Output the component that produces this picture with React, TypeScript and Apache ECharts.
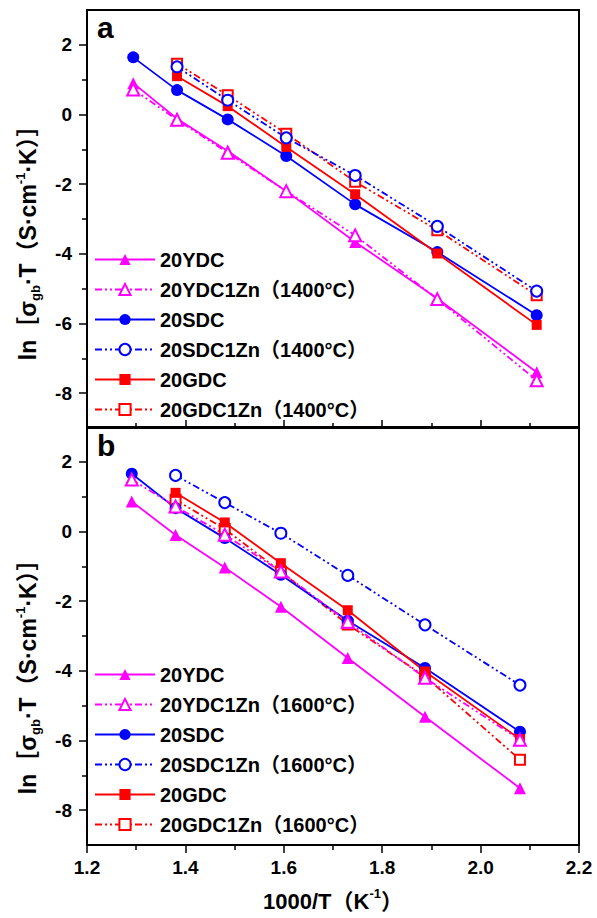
import React, { useEffect, useRef } from "react";
import * as echarts from "echarts";

// ---- data ----
const xTickValues = [1.2, 1.4, 1.6, 1.8, 2.0, 2.2];
const yLabelValues = [-8, -6, -4, -2, 0, 2];
const yMinorValues = [-7, -5, -3, -1, 1];

// 1000/T positions of the measured points
const xPanelA = [1.294, 1.383, 1.486, 1.605, 1.745, 1.912, 2.114];
const xPanelB = [1.291, 1.380, 1.480, 1.594, 1.730, 1.887, 2.080];

// panel a
const aYDC = [0.9, -0.12, -1.05, -2.2, -3.66, -5.28, -7.4];
const aYDC1Zn = [0.72, -0.15, -1.1, -2.2, -3.47, -5.3, -7.63];
const aSDC = [1.64, 0.7, -0.14, -1.19, -2.58, -3.95, -5.76];
const aSDC1Zn = [null, 1.37, 0.41, -0.67, -1.75, -3.21, -5.07];
const aGDC = [null, 1.1, 0.24, -0.93, -2.29, -3.99, -6.04];
const aGDC1Zn = [null, 1.46, 0.55, -0.55, -1.93, -3.32, -5.19];

// panel b
const bYDC = [0.86, -0.1, -1.03, -2.16, -3.63, -5.32, -7.37];
const bYDC1Zn = [1.49, 0.72, -0.09, -1.15, -2.59, -4.2, -5.98];
const bSDC = [1.66, 0.67, -0.19, -1.24, -2.56, -3.92, -5.75];
const bSDC1Zn = [null, 1.61, 0.83, -0.05, -1.26, -2.68, -4.41];
const bGDC = [null, 1.11, 0.26, -0.91, -2.26, -4.02, -5.96];
const bGDC1Zn = [null, 0.91, 0.07, -1.15, -2.67, -4.16, -6.55];

const namesA = ["20YDC", "20YDC1Zn（1400°C）", "20SDC", "20SDC1Zn（1400°C）", "20GDC", "20GDC1Zn（1400°C）"];
const namesB = ["20YDC", "20YDC1Zn（1600°C）", "20SDC", "20SDC1Zn（1600°C）", "20GDC", "20GDC1Zn（1600°C）"];

const MAGENTA = "#FF00FF";
const BLUE = "#0000FF";
const RED = "#FF0000";
const FONT = 'Arial, "Liberation Sans", "Noto Sans CJK SC", sans-serif';
const DASH = [7, 3, 2, 3, 2, 3];

function pairs(xs: number[], ys: (number | null)[]) {
  const out: number[][] = [];
  xs.forEach((x, i) => {
    const y = ys[i];
    if (y !== null && y !== undefined) out.push([x, y]);
  });
  return out;
}

function mk(
  name: string,
  xs: number[],
  ys: (number | null)[],
  color: string,
  symbol: string,
  size: number,
  dashed: boolean,
  panel: number
) {
  return {
    type: "line",
    name,
    xAxisIndex: panel,
    yAxisIndex: panel * 2,
    data: pairs(xs, ys),
    symbol,
    symbolSize: size,
    showSymbol: true,
    color,
    lineStyle: { color, width: 1.8, type: dashed ? DASH : "solid" },
    itemStyle: { color, borderColor: color, borderWidth: dashed ? 1.5 : 0 },
    emphasis: { disabled: true },
  };
}

function seriesFor(panel: number, xs: number[], d: (number | null)[][], names: string[]) {
  const [ydc, ydcZn, sdc, sdcZn, gdc, gdcZn] = d;
  return [
    mk(names[5], xs, gdcZn, RED, "emptyRect", 10, true, panel),
    mk(names[0], xs, ydc, MAGENTA, "triangle", 12, false, panel),
    mk(names[2], xs, sdc, BLUE, "circle", 12, false, panel),
    mk(names[4], xs, gdc, RED, "rect", 10, false, panel),
    mk(names[3], xs, sdcZn, BLUE, "emptyCircle", 11, true, panel),
    mk(names[1], xs, ydcZn, MAGENTA, "emptyTriangle", 12, true, panel),
  ];
}

const labelStyle = { fontSize: 19, fontWeight: "bold", color: "#000", fontFamily: FONT };

function xAxisFor(gridIndex: number, bottom: boolean) {
  return {
    type: "value",
    gridIndex,
    min: xTickValues[0],
    max: xTickValues[xTickValues.length - 1],
    interval: 0.2,
    axisLine: { show: true, onZero: false, lineStyle: { color: "#000", width: 2 } },
    axisTick: { show: true, inside: !bottom, length: 8, lineStyle: { color: "#000", width: 1.5 } },
    minorTick: { show: true, splitNumber: 2, length: 5, lineStyle: { color: "#000", width: 1.5 } },
    splitLine: { show: false },
    minorSplitLine: { show: false },
    axisLabel: bottom
      ? { show: true, margin: 13, formatter: (v: number) => v.toFixed(1), ...labelStyle }
      : { show: false },
    ...(bottom
      ? {
          name: "{m|1000/T（K}{p|-1}{m|）}",
          nameLocation: "middle",
          nameGap: 42,
          nameTextStyle: {
            fontSize: 22,
            fontWeight: "bold",
            fontFamily: FONT,
            color: "#000",
            rich: {
              m: { fontSize: 22, fontWeight: "bold", fontFamily: FONT, color: "#000", lineHeight: 28 },
              p: { fontSize: 13, fontWeight: "bold", fontFamily: FONT, color: "#000", lineHeight: 14, verticalAlign: "top" },
            },
          },
        }
      : {}),
  };
}

function yAxesFor(gridIndex: number) {
  return [
    {
      type: "value",
      gridIndex,
      min: -9,
      max: 3,
      position: "left",
      axisLine: { show: true, onZero: false, lineStyle: { color: "#000", width: 2 } },
      axisTick: { show: true, length: 8, customValues: yLabelValues, lineStyle: { color: "#000", width: 1.5 } },
      axisLabel: { show: true, margin: 15, customValues: yLabelValues, ...labelStyle },
      splitLine: { show: false },
    },
    {
      // minor ticks: placed on the left edge of the plot, pointing outwards
      type: "value",
      gridIndex,
      min: -9,
      max: 3,
      position: "right",
      offset: -492,
      axisLine: { show: false, onZero: false },
      axisTick: { show: true, inside: true, length: 5, customValues: yMinorValues, lineStyle: { color: "#000", width: 1.5 } },
      axisLabel: { show: false },
      splitLine: { show: false },
    },
  ];
}

function legendFor(top: number, names: string[]) {
  return {
    orient: "vertical",
    left: 94,
    top,
    padding: 0,
    itemWidth: 60,
    itemHeight: 14,
    itemGap: 9,
    selectedMode: false,
    data: names,
    textStyle: { fontSize: 20, fontWeight: "bold", color: "#000", fontFamily: FONT, lineHeight: 21 },
  };
}

const yTitleRich = {
  m: { fontSize: 23, fontWeight: "bold", fontFamily: FONT, fill: "#000", lineHeight: 28 },
  s: { fontSize: 13, fontWeight: "bold", fontFamily: FONT, fill: "#000", lineHeight: 14, verticalAlign: "bottom" },
  p: { fontSize: 13, fontWeight: "bold", fontFamily: FONT, fill: "#000", lineHeight: 14, verticalAlign: "top" },
};
const yTitleText = "{m|ln［σ}{s|gb}{m|·T（S·cm}{p|-1}{m|·K）］}";

export default function App() {
  const ref = useRef<HTMLDivElement>(null);
  useEffect(() => {
    if (!ref.current) return;
    const chart = echarts.init(ref.current, null, { renderer: "svg" });
    chart.setOption({
      animation: false,
      backgroundColor: "#fff",
      grid: [
        { left: 87, top: 10, width: 492, height: 418, show: true, borderColor: "#000", borderWidth: 2, backgroundColor: "transparent" },
        { left: 87, top: 427, width: 492, height: 418, show: true, borderColor: "#000", borderWidth: 2, backgroundColor: "transparent" },
      ],
      xAxis: [xAxisFor(0, false), xAxisFor(1, true)],
      yAxis: [...yAxesFor(0), ...yAxesFor(1)],
      legend: [legendFor(249, namesA), legendFor(664, namesB)],
      series: [
        ...seriesFor(0, xPanelA, [aYDC, aYDC1Zn, aSDC, aSDC1Zn, aGDC, aGDC1Zn], namesA),
        ...seriesFor(1, xPanelB, [bYDC, bYDC1Zn, bSDC, bSDC1Zn, bGDC, bGDC1Zn], namesB),
      ],
      graphic: [
        { type: "text", left: 97, top: 12, style: { text: "a", fontSize: 30, fontWeight: "bold", fontFamily: FONT, fill: "#000" } },
        { type: "text", left: 97, top: 430, style: { text: "b", fontSize: 30, fontWeight: "bold", fontFamily: FONT, fill: "#000" } },
        {
          type: "text",
          x: 28,
          y: 237,
          rotation: Math.PI / 2,
          style: { text: yTitleText, rich: yTitleRich, align: "center", verticalAlign: "middle" },
        },
        {
          type: "text",
          x: 28,
          y: 671,
          rotation: Math.PI / 2,
          style: { text: yTitleText, rich: yTitleRich, align: "center", verticalAlign: "middle" },
        },
      ],
    });
    return () => chart.dispose();
  }, []);
  return (
    <div
      ref={ref}
      style={{ position: "absolute", left: 0, top: 0, width: 597, height: 918, background: "#fff" }}
    />
  );
}
